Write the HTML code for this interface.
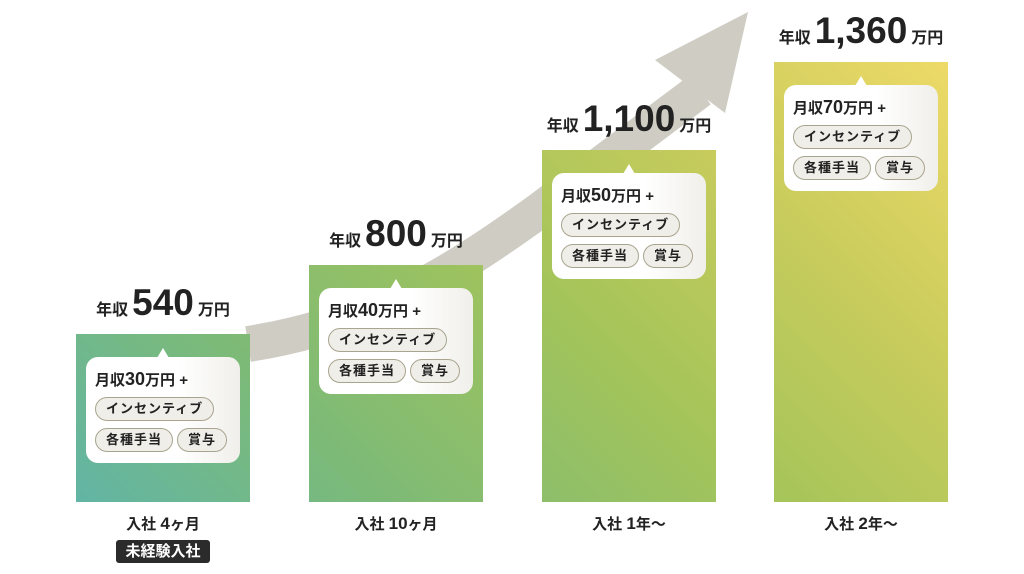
<!DOCTYPE html>
<html><head><meta charset="utf-8"><style>
*{margin:0;padding:0;box-sizing:border-box}
body{width:1024px;height:574px;background:#fff;position:relative;overflow:hidden;font-family:"Liberation Sans","Noto Sans CJK JP",sans-serif;color:#222}
.bar{position:absolute;width:174px;background:linear-gradient(45deg,#55b2bb 0%,#7cba78 28%,#a3c45a 52%,#c9cc5c 72%,#f4dc6a 95%);background-size:1024px 574px}
.card{position:absolute;left:10px;top:23px;width:154px;height:106px;border-radius:12px;background:linear-gradient(90deg,#fff 60%,#f0efea);padding:10px 0 0 9px}
.card:before{content:"";position:absolute;left:71px;top:-9px;border-left:6px solid transparent;border-right:6px solid transparent;border-bottom:10px solid #fff}
.mt{font-size:15px;font-weight:bold;height:30px;line-height:24px}
.mt b{font-size:18px}
.pill{display:inline-block;height:24px;line-height:21px;border:1.5px solid #a9a48f;border-radius:12px;background:#efeee8;font-size:13px;font-weight:bold;padding:0 10px;margin:0 4px 7px 0;letter-spacing:1px}
.ttl{position:absolute;width:220px;text-align:center;font-weight:bold;font-size:16px;white-space:nowrap}
.ttl b{font-size:37px;margin:0 4px}
.lab{position:absolute;width:174px;text-align:center;font-size:15px;font-weight:bold}
.lab b{font-size:17px}
</style></head><body>
<svg width="1024" height="574" style="position:absolute;left:0;top:0">
<path d="M248,344 C370,325 450,275 540,210 L700,90" stroke="#cfcdc3" stroke-width="36" fill="none"/>
<polygon points="748,12 655,60 725,113" fill="#cfcdc3"/>
</svg>

<div class="ttl" style="left:53px;top:282px">年収<b>540</b>万円</div>
<div class="bar" style="left:76px;top:334px;height:168px;background-position:-76px -334px">
 <div class="card"><div class="mt">月収<b>30</b>万円 +</div><span class="pill">インセンティブ</span><br><span class="pill">各種手当</span><span class="pill">賞与</span></div>
</div>
<div class="lab" style="left:76px;top:513px">入社 <b>4</b>ヶ月</div>
<div style="position:absolute;left:116px;top:540px;width:94px;height:23px;background:#2b2b2b;color:#fff;border-radius:3px;font-size:15px;font-weight:bold;text-align:center;line-height:23px">未経験入社</div>

<div class="ttl" style="left:286px;top:213px">年収<b>800</b>万円</div>
<div class="bar" style="left:309px;top:265px;height:237px;background-position:-309px -265px">
 <div class="card"><div class="mt">月収<b>40</b>万円 +</div><span class="pill">インセンティブ</span><br><span class="pill">各種手当</span><span class="pill">賞与</span></div>
</div>
<div class="lab" style="left:309px;top:513px">入社 <b>10</b>ヶ月</div>

<div class="ttl" style="left:519px;top:98px">年収<b>1,100</b>万円</div>
<div class="bar" style="left:542px;top:150px;height:352px;background-position:-542px -150px">
 <div class="card"><div class="mt">月収<b>50</b>万円 +</div><span class="pill">インセンティブ</span><br><span class="pill">各種手当</span><span class="pill">賞与</span></div>
</div>
<div class="lab" style="left:542px;top:513px">入社 <b>1</b>年〜</div>

<div class="ttl" style="left:751px;top:10px">年収<b>1,360</b>万円</div>
<div class="bar" style="left:774px;top:62px;height:440px;background-position:-774px -62px">
 <div class="card"><div class="mt">月収<b>70</b>万円 +</div><span class="pill">インセンティブ</span><br><span class="pill">各種手当</span><span class="pill">賞与</span></div>
</div>
<div class="lab" style="left:774px;top:513px">入社 <b>2</b>年〜</div>
</body></html>
